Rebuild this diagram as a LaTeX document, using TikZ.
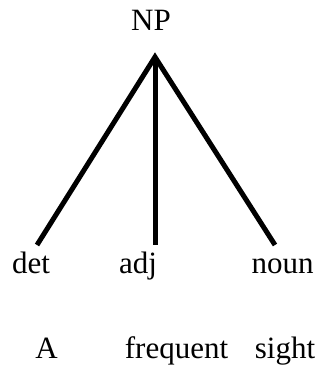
\documentclass[tikz,border=0pt]{standalone}
\usepackage{fontspec}
\setmainfont{Liberation Serif}
\usepackage{tikz}
\usetikzlibrary{positioning}
\tikzset{
  lbl/.style={font=\fontsize{31}{36}\selectfont, inner sep=0pt, anchor=base},
  branch/.style={line width=5pt, line join=miter},
}

\begin{document}
\begin{tikzpicture}[x=1pt, y=-1pt]
  \useasboundingbox (0,0) rectangle (320,367);
  \node[lbl] (np) at (151,30) {NP};
  \coordinate (top) at (155,57);
  \node[lbl] (det) at (31,273) {det};
  \node[lbl] (adj) at (138,273) {adj};
  \node[lbl] (noun) at (282.5,273) {noun};
  \coordinate (detend) at (37,245);
  \coordinate (adjend) at (155,245);
  \coordinate (nounend) at (275,245);
  \draw[branch] (detend) -- (top) -- (nounend);
  \draw[branch] (top) -- (adjend);
  \node[lbl] (w1) at (46.5,358) {A};
  \node[lbl] (w2) at (176.5,358) {frequent};
  \node[lbl] (w3) at (285,358) {sight};
\end{tikzpicture}
\end{document}
